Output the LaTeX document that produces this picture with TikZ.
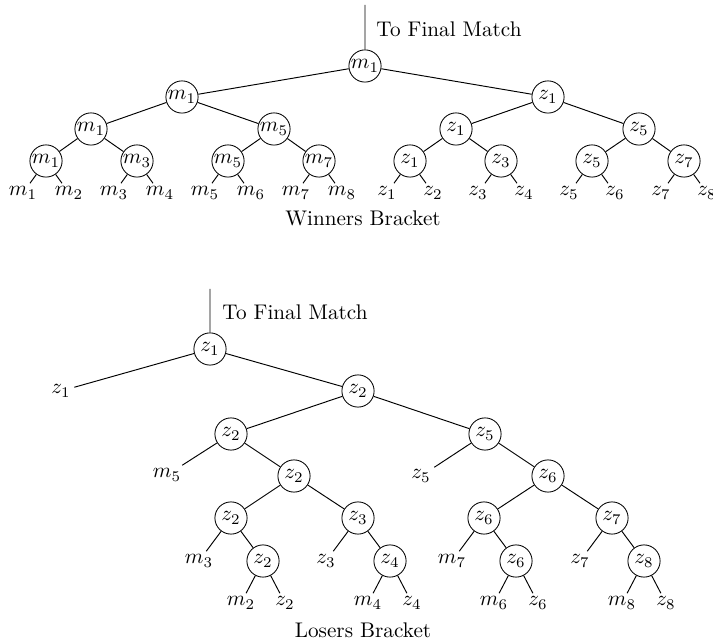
\documentclass[tikz,border=0pt]{standalone}
\begin{document}
\begin{tikzpicture}[x=0.472pt,y=-0.472pt,
  game/.style={circle,draw,minimum size=15.2pt,inner sep=0pt},
  seed/.style={inner sep=1.5pt},
  link/.style={draw,line width=0.45pt}]
\useasboundingbox (0,0) rectangle (713,643);

% ---------------- Winners bracket ----------------
\coordinate (wtop) at (365,5);
\node[game] (w) at (365,66) {$m_1$};
\node[anchor=west] (wfinal) at (369,29) {To Final Match};
\node[game] (wa) at (182,97) {$m_1$};
\node[game] (wb) at (548,97) {$z_1$};
\node[game] (waa) at (91,129) {$m_1$};
\node[game] (wab) at (274,129) {$m_5$};
\node[game] (wba) at (456,129) {$z_1$};
\node[game] (wbb) at (639,129) {$z_5$};
\path[link] (wtop) -- (w) (w) -- (wa) (w) -- (wb)
  (wa) -- (waa) (wa) -- (wab) (wb) -- (wba) (wb) -- (wbb);

% first round: game node, its parent, and the two players
\foreach \n/\x/\p/\g/\a/\b in {
  r1/46/waa/m_1/m_1/m_2, r2/137/waa/m_3/m_3/m_4,
  r3/228/wab/m_5/m_5/m_6, r4/319/wab/m_7/m_7/m_8,
  r5/410/wba/z_1/z_1/z_2, r6/501/wba/z_3/z_3/z_4,
  r7/592/wbb/z_5/z_5/z_6, r8/684/wbb/z_7/z_7/z_8}{
  \node[game] (\n) at (\x,161) {$\g$};
  \node[seed] (\n a) at (\x-23,193) {$\a$};
  \node[seed] (\n b) at (\x+23,193) {$\b$};
  \path[link] (\p) -- (\n) (\n) -- (\n a) (\n) -- (\n b);
}
\node (wtitle) at (363,218) {Winners Bracket};

% ---------------- Losers bracket ----------------
\coordinate (ltop) at (210,289);
\node[game] (l) at (210,349) {$z_1$};
\node[anchor=west] (lfinal) at (215,312) {To Final Match};
\node[seed] (ls) at (61,391) {$z_1$};
\node[game] (lb) at (358,391) {$z_2$};
\node[game] (lba) at (231,434) {$z_2$};
\node[game] (lbb) at (485,434) {$z_5$};
\node[seed] (lbas) at (167,475) {$m_5$};
\node[game] (lbab) at (294,476) {$z_2$};
\node[seed] (lbbs) at (421,476) {$z_5$};
\node[game] (lbbb) at (548,476) {$z_6$};
\node[game] (c1) at (231,518) {$z_2$};
\node[game] (c2) at (358,518) {$z_3$};
\node[game] (c3) at (484,518) {$z_6$};
\node[game] (c4) at (612,518) {$z_7$};
\path[link] (ltop) -- (l) (l) -- (ls) (l) -- (lb)
  (lb) -- (lba) (lb) -- (lbb)
  (lba) -- (lbas) (lba) -- (lbab) (lbb) -- (lbbs) (lbb) -- (lbbb)
  (lbab) -- (c1) (lbab) -- (c2) (lbbb) -- (c3) (lbbb) -- (c4);

% lower rounds: a player entering on the left, a game on the right
\foreach \n/\p/\x/\s/\g/\a/\b in {
  d1/c1/231/m_3/z_2/m_2/z_2, d2/c2/358/z_3/z_4/m_4/z_4,
  d3/c3/484/m_7/z_6/m_6/z_6, d4/c4/612/z_7/z_8/m_8/z_8}{
  \node[seed] (\n s) at (\x-32,561) {$\s$};
  \node[game] (\n) at (\x+32,561) {$\g$};
  \node[seed] (\n a) at (\x+32-22,603) {$\a$};
  \node[seed] (\n b) at (\x+32+22,603) {$\b$};
  \path[link] (\p) -- (\n s) (\p) -- (\n) (\n) -- (\n a) (\n) -- (\n b);
}
\node (ltitle) at (363,630) {Losers Bracket};
\end{tikzpicture}
\end{document}
